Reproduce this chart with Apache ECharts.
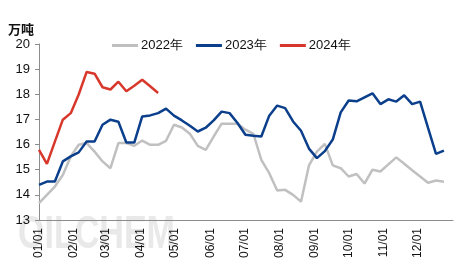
<!DOCTYPE html>
<html>
<head>
<meta charset="utf-8">
<script src="https://cdn.jsdelivr.net/npm/echarts@6/dist/echarts.min.js"></script>
<style>html,body{margin:0;padding:0;background:#fff}#c{width:454px;height:265px}</style>
</head>
<body>
<div id="c"></div>
<script>
// Weekly values (one point per week, starting 01/01)
var s2022 = [13.67,14.00,14.33,14.79,15.53,15.99,16.06,15.72,15.33,15.06,16.06,16.06,15.95,16.16,15.99,15.99,16.15,16.79,16.68,16.43,15.95,15.79,16.32,16.83,16.83,16.83,16.59,16.43,15.39,14.86,14.17,14.20,14.00,13.73,15.17,15.72,16.03,15.17,15.06,14.73,14.83,14.45,15.00,14.93,15.21,15.49,15.24,14.98,14.73,14.48,14.57,14.52];
var s2023 = [14.40,14.53,14.53,15.33,15.53,15.69,16.12,16.12,16.79,16.99,16.91,16.08,16.08,17.12,17.16,17.25,17.43,17.15,16.96,16.75,16.52,16.67,16.96,17.31,17.25,16.86,16.39,16.35,16.32,17.15,17.55,17.45,16.92,16.55,15.84,15.46,15.74,16.20,17.28,17.75,17.72,17.88,18.04,17.61,17.80,17.71,17.96,17.61,17.71,16.66,15.63,15.76];
var s2024 = [15.79,15.23,16.12,16.99,17.25,17.99,18.89,18.82,18.28,18.19,18.50,18.12,18.34,18.58,18.32,18.05];
var seriesNames = ['2022年','2023年','2024年'];
var monthStartDays = [0,31,59,90,120,151,181,212,243,273,304,334];
var monthLabels = ['01/01','02/01','03/01','04/01','05/01','06/01','07/01','08/01','09/01','10/01','11/01','12/01'];
var yTicks = [13,14,15,16,17,18,19,20];

function toPairs(arr){ return arr.map(function(v,i){ return [i*7, v]; }); }
var colors = ['#c0c0c0','#0b3f8c','#d7382b'];
var chart = echarts.init(document.getElementById('c'), null, {renderer:'canvas'});
var font = 'Liberation Sans, Arial, sans-serif';
chart.setOption({
  animation:false,
  backgroundColor:'#fff',
  color: colors,
  title:{text:'万吨', left:3, top:18, textStyle:{fontFamily:'Noto Sans CJK SC', fontSize:13, fontWeight:'bold', color:'#111'}},
  graphic:[{type:'text', left:18, top:212, z:-10, silent:true, scaleX:0.74,
    style:{text:'OILCHEM', font:'bold 46px Liberation Sans, Arial, sans-serif', fill:'#e9e9e9'}}],
  legend:{
    left:107, top:34, itemWidth:26, itemHeight:3, itemGap:13, icon:'rect',
    data: seriesNames,
    textStyle:{fontFamily:font, fontSize:13, color:'#111', padding:[0,0,0,-2]}
  },
  grid:{left:39, right:1, top:44, bottom:45, containLabel:false},
  xAxis:{
    type:'value', min:0, max:365,
    axisLine:{show:true, lineStyle:{color:'#8c8c8c', width:1}},
    axisTick:{show:false},
    splitLine:{show:false},
    axisLabel:{
      customValues: monthStartDays,
      rotate:90, margin:8, fontFamily:font, fontSize:12, color:'#111',
      formatter:function(v){ var k = monthStartDays.indexOf(v); return k>=0 ? monthLabels[k] : ''; }
    }
  },
  yAxis:{
    type:'value', min:yTicks[0], max:yTicks[yTicks.length-1], interval:1,
    axisLine:{show:true, lineStyle:{color:'#8c8c8c', width:1}},
    axisTick:{show:true, length:4, inside:false, lineStyle:{color:'#8c8c8c'}},
    splitLine:{show:false},
    axisLabel:{margin:9, fontFamily:font, fontSize:13, color:'#111'}
  },
  series:[
    {name:seriesNames[0], type:'line', data:toPairs(s2022), showSymbol:false, lineStyle:{width:2.5, color:colors[0]}, z:1},
    {name:seriesNames[1], type:'line', data:toPairs(s2023), showSymbol:false, lineStyle:{width:2.5, color:colors[1]}, z:2},
    {name:seriesNames[2], type:'line', data:toPairs(s2024), showSymbol:false, lineStyle:{width:2.5, color:colors[2]}, z:3}
  ]
});
</script>
</body>
</html>
